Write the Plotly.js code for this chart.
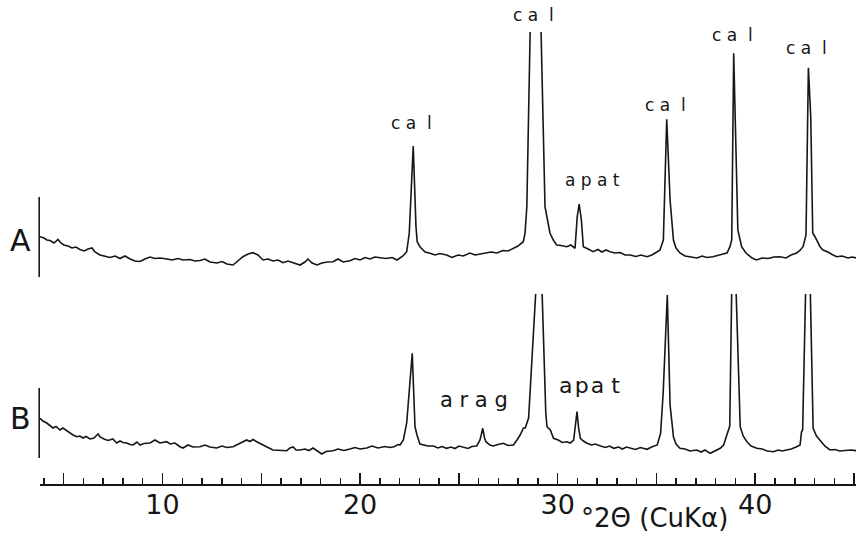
<!DOCTYPE html>
<html>
<head>
<meta charset="utf-8">
<script src="https://cdn.plot.ly/plotly-3.0.1.min.js"></script>
<style>html,body{margin:0;padding:0;background:#fff;}#chart{width:857px;height:536px;}</style>
</head>
<body>
<div id="chart"></div>
<script>
// Pattern A (upper): 2-theta (deg) and intensity (arbitrary units)
var twoThetaA = [3.80,4.00,4.15,4.31,4.51,4.71,4.86,5.01,5.22,5.42,5.62,5.82,6.03,6.23,6.43,6.58,6.84,7.09,7.34,7.60,7.85,8.10,8.36,8.61,8.86,9.11,9.37,9.62,9.87,10.23,10.48,10.78,11.04,11.39,11.64,11.90,12.15,12.40,12.76,13.01,13.26,13.57,13.82,14.07,14.33,14.58,14.83,15.09,15.34,15.59,15.85,16.10,16.35,16.66,16.96,17.21,17.36,17.57,17.82,18.07,18.33,18.63,18.88,19.14,19.49,19.74,20.00,20.25,20.50,20.75,21.01,21.31,21.62,21.87,22.17,22.36,22.49,22.69,22.83,22.89,23.03,23.29,23.54,23.79,24.04,24.38,24.65,24.96,25.22,25.56,25.82,26.07,26.37,26.63,26.93,27.23,27.49,27.76,27.99,28.26,28.35,28.44,28.86,29.36,29.53,29.61,29.78,29.95,30.17,30.46,30.67,30.88,30.99,31.09,31.20,31.30,31.54,31.80,32.04,32.24,32.45,32.65,32.90,33.16,33.41,33.66,33.96,34.22,34.52,34.77,35.02,35.18,35.35,35.52,35.69,35.86,35.99,36.19,36.45,36.70,37.05,37.31,37.56,37.86,38.11,38.37,38.57,38.72,38.81,38.91,39.12,39.31,39.53,39.84,40.07,40.34,40.65,40.95,41.25,41.56,41.81,42.10,42.26,42.42,42.57,42.69,42.81,42.91,43.03,43.28,43.43,43.68,43.89,44.12,44.39,44.70,44.90,45.14];
var intensityA = [45.3,44,42,41.5,39,42.5,39,37,36,34,35,32.5,31,33,34,30,27,26,24.5,26,23.5,26,23,21,20.5,23,25,23.5,24,23,22,23.5,22,22.5,21,21.5,23,20,19,20.5,18,17,21,25.3,28,29.3,27,22,23,21,22,19.3,21,19,17,20,23,19,17,19,20,20.3,23,20,21.3,23.5,22,24.5,23,25,24,23.5,24.5,22,26,30.3,49,136,55.3,40.3,35.3,30,28.7,27,28.5,27,24.5,27,26,29,27,28,28.5,30,29,31.5,31,33.7,36,40.3,49,75.3,513,75.3,55.3,49,42,37,36.5,35.3,37,33.7,65.3,78,62,35.3,33,30.3,32.5,30,32,30.3,29,29.5,27,27,25.5,27,25.3,27,30,32,42,162.7,82,42,34,29,26,25,24,26,24.5,25.3,27,28,29,35.3,42,228.7,52,35.3,29,24,22,24,23.5,25,25.3,24,27,29,31.5,35.3,47,214.3,165.3,49,45,35.3,32,30,27.5,25.3,26,24,25,24];

// Pattern B (lower)
var twoThetaB = [3.80,3.95,4.14,4.31,4.46,4.61,4.81,4.96,5.15,5.32,5.47,5.66,5.82,5.98,6.13,6.33,6.53,6.74,6.84,7.04,7.24,7.49,7.68,7.85,8.00,8.19,8.36,8.51,8.71,8.86,9.06,9.37,9.62,9.87,10.21,10.38,10.63,10.88,11.04,11.29,11.54,11.90,12.15,12.40,12.74,13.01,13.26,13.57,13.82,14.07,14.26,14.43,14.58,14.77,14.93,15.27,15.44,15.59,15.95,16.29,16.45,16.61,16.76,16.96,17.21,17.41,17.62,17.82,18.06,18.28,18.63,18.88,19.19,19.49,19.74,20.00,20.34,20.60,20.91,21.26,21.51,21.72,21.92,22.02,22.19,22.36,22.64,22.78,22.88,23.03,23.20,23.44,23.71,23.94,24.15,24.38,24.60,24.80,25.01,25.22,25.46,25.66,25.90,26.07,26.21,26.30,26.37,26.57,26.74,26.98,27.25,27.49,27.76,27.94,28.10,28.27,28.36,28.53,29.10,29.40,29.46,29.63,29.79,30.03,30.23,30.47,30.64,30.81,30.89,30.98,31.06,31.15,31.30,31.49,31.71,31.91,32.17,32.42,32.62,32.84,33.08,33.28,33.48,33.68,33.94,34.19,34.53,34.75,35.04,35.21,35.34,35.55,35.69,35.86,35.99,36.19,36.45,36.70,37.04,37.26,37.46,37.72,37.97,38.23,38.40,38.56,38.68,38.71,38.88,39.24,39.39,39.58,39.79,40.08,40.35,40.60,40.92,41.16,41.36,41.60,41.82,42.07,42.27,42.34,42.40,42.67,42.93,43.10,43.27,43.52,43.78,44.03,44.28,44.62,44.84,45.13];
var intensityB = [65.7,63,61,58,56,57.5,54,56,53.3,51,49,47.3,48,46,47.5,45,46,50,47,45,43.5,45,41,43,41.5,41,39.5,39,42,39,40.5,41,44,41,42.3,40,41,37.3,36,39,37,37.3,39,37,36,38,36.5,37.3,40,42,44,42.5,44.5,42.3,40.5,37.3,35.5,34,33.5,33.3,36,37,34,34,35,33.5,36,33.5,30,32.5,33.3,35,33.5,35,36.5,35,36,38,36,37.5,36.5,37.3,39.5,39,44,61,130.7,57.3,49,40,39,38,38,36,37.5,35.7,37,35.5,38,36.7,35.5,37.5,38,44,55.7,46,42.3,39,38,39.5,40.7,38.5,39,44,49,56,56,66,264,70.7,57.3,54,45.7,44,41.5,42.3,41,44,56,72.3,56,45.7,43,40.7,39,40,38,36.5,38,35.7,37,35,37,35.7,34.5,36.5,34.7,37,39,50.7,90.7,189,79,47.3,40,35.7,35,33,34,32,34,30.7,33.5,35.7,39,48,56,58,291,57.3,48,42.3,38,35.7,35,33,32.3,34,33,34,35,37,39,52,54,305,55.7,48,44,38,34,34.5,33,33.3,34,33.3];

// Axis ticks
var tickValues = [5,10,15,20,25,30,35,40,45];
var tickLabels = ['', '10', '', '20', '', '30', '', '40', ''];

// Phase labels
var labelTextsA = ['c\u00a0a\u00a0\u00a0l', 'c\u00a0a\u00a0\u00a0l', 'a\u00a0p\u00a0a\u00a0t', 'c\u00a0a\u00a0\u00a0l', 'c\u00a0a\u00a0\u00a0l', 'c\u00a0a\u00a0\u00a0l'];
var labelXA = [22.61, 28.80, 31.74, 35.48, 38.85, 42.59];
var labelTextsB = ['a\u00a0r\u00a0a\u00a0g', 'a\u200ap\u200aa\u00a0t'];
var labelXB = [25.77, 31.59];

var FONT = 'DejaVu Sans, Liberation Sans, Arial, sans-serif';
var INK = '#161616';

var traces = [
  {x: twoThetaA, y: intensityA, xaxis: 'x', yaxis: 'y2', type: 'scatter', mode: 'lines',
   line: {color: INK, width: 1.6}, hoverinfo: 'skip', showlegend: false},
  {x: twoThetaB, y: intensityB, xaxis: 'x', yaxis: 'y', type: 'scatter', mode: 'lines',
   line: {color: INK, width: 1.6}, hoverinfo: 'skip', showlegend: false}
];

// label layout (paper y of text bottom)
var labelYA = [0.7721, 1.0117, 0.6454, 0.8126, 0.9675, 0.9381];
var labelSizeA = 17;
var labelYB = [0.1542, 0.1869];
var labelSizeB = [21, 22];

var annotations = [];
for (var i = 0; i < labelTextsA.length; i++) {
  annotations.push({text: labelTextsA[i], x: labelXA[i], xref: 'x', y: labelYA[i], yref: 'paper',
    xanchor: 'center', yanchor: 'bottom', showarrow: false,
    font: {family: FONT, size: labelSizeA, color: INK}});
}
for (var j = 0; j < labelTextsB.length; j++) {
  annotations.push({text: labelTextsB[j], x: labelXB[j], xref: 'x', y: labelYB[j], yref: 'paper',
    xanchor: 'center', yanchor: 'bottom', showarrow: false,
    font: {family: FONT, size: labelSizeB[j], color: INK}});
}
annotations.push({text: 'A', x: -0.0245, xref: 'paper', y: 0.4956, yref: 'paper', xanchor: 'center', yanchor: 'bottom',
  showarrow: false, font: {family: FONT, size: 30, color: INK}});
annotations.push({text: 'B', x: -0.0239, xref: 'paper', y: 0.1018, yref: 'paper', xanchor: 'center', yanchor: 'bottom',
  showarrow: false, font: {family: FONT, size: 30, color: INK}});
annotations.push({text: '\u00b02\u0398 (CuK\u03b1)', x: 34.88, xref: 'x', y: -0.1128, yref: 'paper', xanchor: 'center', yanchor: 'bottom',
  showarrow: false, font: {family: FONT, size: 26, color: INK}});

var layout = {
  width: 857, height: 536,
  margin: {l: 40, r: 1, t: 32, b: 52, pad: 0},
  paper_bgcolor: '#ffffff', plot_bgcolor: '#ffffff',
  showlegend: false,
  font: {family: FONT, color: INK},
  xaxis: {
    range: [3.8, 45.1], anchor: 'y',
    showgrid: false, zeroline: false,
    showline: true, linecolor: INK, linewidth: 1.6,
    ticks: 'inside', ticklen: 11, tickwidth: 1.5, tickcolor: INK,
    tickmode: 'array', tickvals: tickValues, ticktext: tickLabels,
    tickfont: {family: FONT, size: 27, color: INK},
    ticklabelstandoff: -4,
    minor: {ticks: 'inside', ticklen: 6, tickwidth: 1.5, tickcolor: INK, tickmode: 'linear', tick0: 0, dtick: 1, showgrid: false}
  },
  yaxis: {domain: [0, 0.42035], range: [0, 190], visible: false, fixedrange: true},
  yaxis2: {domain: [0.4469, 1], range: [0, 250], visible: false, anchor: 'x', fixedrange: true},
  shapes: [
    {type: 'line', xref: 'paper', yref: 'paper', x0: -0.001, x1: -0.001, y0: 0.458, y1: 0.635, line: {color: INK, width: 1.6}},
    {type: 'line', xref: 'paper', yref: 'paper', x0: -0.001, x1: -0.001, y0: 0.0575, y1: 0.2124, line: {color: INK, width: 1.6}}
  ],
  annotations: annotations
};

Plotly.newPlot('chart', traces, layout, {displayModeBar: false, staticPlot: true});
</script>
</body>
</html>
